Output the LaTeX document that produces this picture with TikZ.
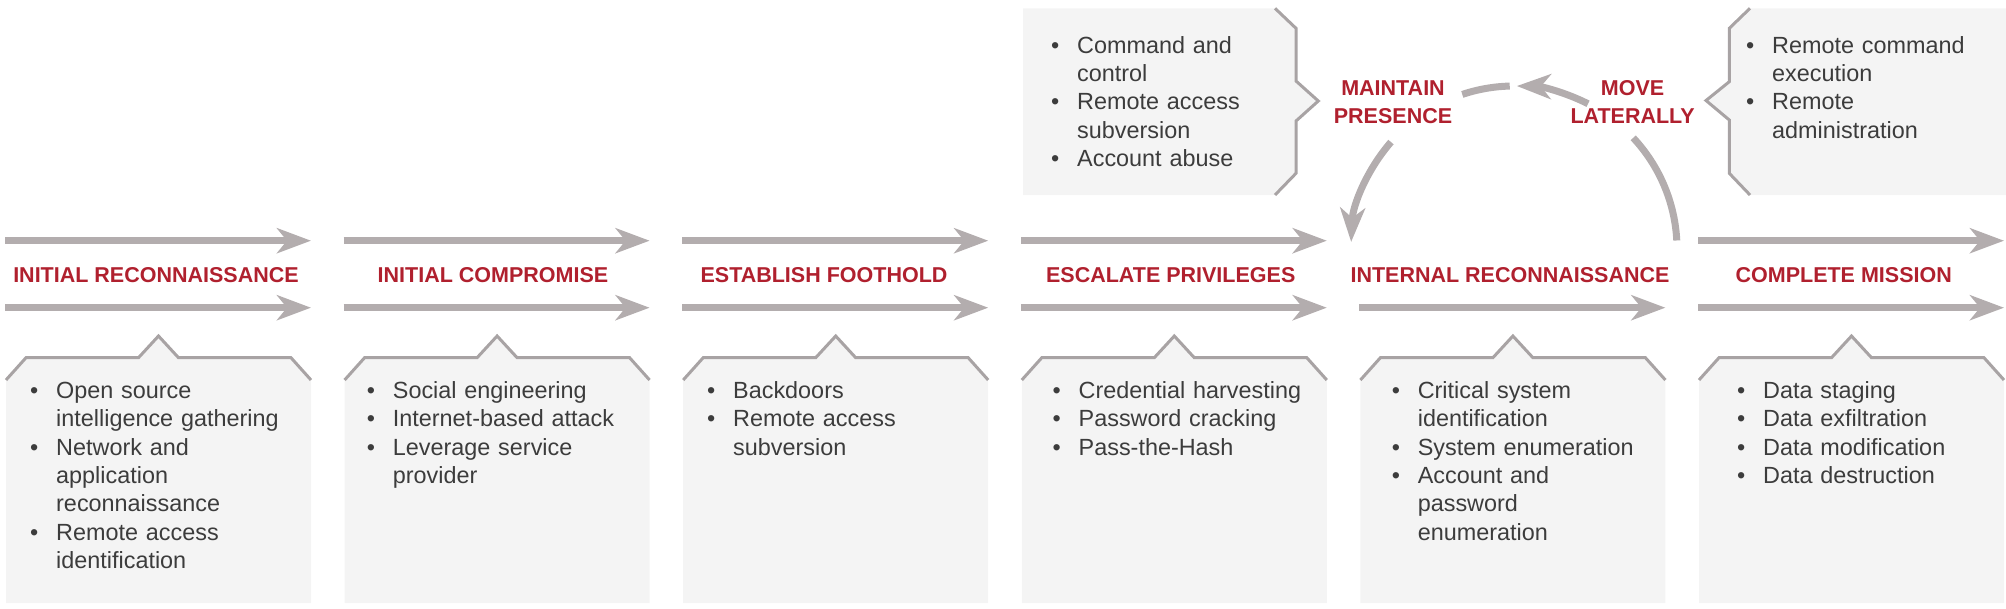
\documentclass[tikz,border=0pt]{standalone}
\usepackage{fontspec}
\setmainfont{Liberation Sans}
\usepackage{tikz}
\usetikzlibrary{arrows.meta,calc}
\definecolor{krred}{HTML}{B0202E}
\definecolor{krgray}{HTML}{B3ADAE}
\definecolor{krline}{HTML}{A8A3A4}
\definecolor{krfill}{HTML}{F4F4F4}
\definecolor{krtext}{HTML}{3C3C3C}
\newcommand{\bitem}{\par\hangindent=26pt\hangafter=1\noindent\strut\makebox[26pt][l]{\textbullet}}
\newcommand{\nl}{\unskip\hfil\break}
\tikzset{
  flow/.style={krgray,line width=7.5pt,-{Stealth[length=34pt,width=25pt,inset=10pt]}},
  loopline/.style={krgray,line width=7pt},
  stagelab/.style={anchor=base,text=krred,inner sep=0pt,font=\bfseries\fontsize{21.5}{28.4}\selectfont},
  blist/.style={anchor=north west,text=krtext,text width=300pt,align=left,inner sep=0pt,font=\fontsize{23.4}{28.4}\selectfont},
  boxrim/.style={krline,line width=3pt}
}

\begin{document}
\begin{tikzpicture}[x=1pt,y=-1pt]
\useasboundingbox (0,0) rectangle (2006,608);
% bottom boxes and flow arrows
\foreach \i in {0,...,5} {
  \pgfmathsetmacro\L{6+338.6*\i}
  \pgfmathsetmacro\R{\L+305}
  \pgfmathsetmacro\C{\L+152.5}
  \fill[krfill] (\L,380) -- (\L+20,357.7) -- (\C-20,357.7) -- (\C,336) -- (\C+20,357.7)
    -- (\R-20,357.7) -- (\R,380) -- (\R,603) -- (\L,603) -- cycle;
  \draw[boxrim] (\L,380) -- (\L+20,357.7) -- (\C-20,357.7) -- (\C,336) -- (\C+20,357.7)
    -- (\R-20,357.7) -- (\R,380);
  \draw[flow] (\L-1,307.7) -- (\R,307.7);
}
\foreach \i in {0,1,2,3,5} {
  \pgfmathsetmacro\L{6+338.6*\i}
  \draw[flow] (\L-1,240.7) -- (\L+305,240.7);
}
% top boxes
\fill[krfill] (1023,8.3) -- (1275,8.3) -- (1296,28.3) -- (1296,81) -- (1318.3,101) -- (1296,121)
  -- (1296,173.3) -- (1275,195) -- (1023,195) -- cycle;
\draw[boxrim] (1275,8.3) -- (1296,28.3) -- (1296,81) -- (1318.3,101) -- (1296,121)
  -- (1296,173.3) -- (1275,195);
\fill[krfill] (2006,8.3) -- (1750,8.3) -- (1729.3,28.3) -- (1729.3,81.7) -- (1706,100.5) -- (1729.3,120)
  -- (1729.3,173.3) -- (1750,195) -- (2006,195) -- cycle;
\draw[boxrim] (1750,8.3) -- (1729.3,28.3) -- (1729.3,81.7) -- (1706,100.5) -- (1729.3,120)
  -- (1729.3,173.3) -- (1750,195);
% stage labels
\foreach \lx/\lab/\nm in {
  156/INITIAL RECONNAISSANCE/recon,
  493/INITIAL COMPROMISE/compromise,
  824/ESTABLISH FOOTHOLD/foothold,
  1170.7/ESCALATE PRIVILEGES/escalate,
  1510/INTERNAL RECONNAISSANCE/internal,
  1843.7/COMPLETE MISSION/mission} {
  \node[stagelab] (\nm) at (\lx,282.7) {\lab};
}
\node[stagelab,text width=150pt,align=center] (maintain) at (1393,95) {MAINTAIN\\PRESENCE};
\node[stagelab,text width=150pt,align=center] (lateral) at (1632.6,95) {MOVE\\LATERALLY};
% bullet lists
\foreach \tx/\items/\nm in {
  56/{\bitem Open source\nl intelligence gathering\bitem Network and\nl application\nl reconnaissance\bitem Remote access\nl identification}/recon-list,
  392.7/{\bitem Social engineering\bitem Internet-based attack\bitem Leverage service\nl provider}/compromise-list,
  733/{\bitem Backdoors\bitem Remote access\nl subversion}/foothold-list,
  1078.5/{\bitem Credential harvesting\bitem Password cracking\bitem Pass-the-Hash}/escalate-list,
  1417.6/{\bitem Critical system\nl identification\bitem System enumeration\bitem Account and\nl password\nl enumeration}/internal-list,
  1763/{\bitem Data staging\bitem Data exfiltration\bitem Data modification\bitem Data destruction}/mission-list} {
  \node[blist] (\nm) at (\tx-26,369.7) {\items\par};
}
\node[blist] (maintain-list) at (1077-26,24.5) {\bitem Command and\nl control\bitem Remote access\nl subversion\bitem Account abuse\par};
\node[blist] (lateral-list) at (1772-26,24.5) {\bitem Remote command\nl execution\bitem Remote\nl administration\par};
% lateral movement loop
\coordinate (cyc) at (1514,249);
\coordinate (loop-a) at ($(cyc)+(-3:163)$);
\coordinate (loop-b) at ($(cyc)+(-63:163)$);
\coordinate (loop-c) at ($(cyc)+(-91.5:163)$);
\coordinate (loop-d) at ($(cyc)+(-139:163)$);
\draw[loopline] (loop-a) arc[start angle=-3,end angle=-43,radius=163];
\draw[loopline,-{Stealth[length=34pt,width=25pt,inset=10pt]}] (loop-b) arc[start angle=-63,end angle=-89,radius=163];
\draw[loopline] (loop-c) arc[start angle=-91.5,end angle=-108.5,radius=163];
\draw[loopline,-{Stealth[length=34pt,width=25pt,inset=10pt]}] (loop-d) arc[start angle=-139,end angle=-177.5,radius=163];
\end{tikzpicture}
\end{document}
